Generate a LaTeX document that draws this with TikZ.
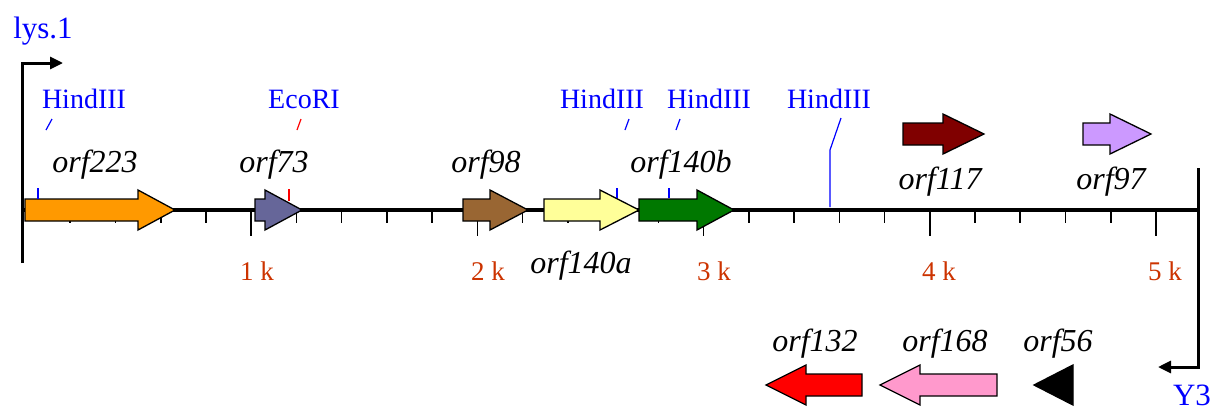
\documentclass[tikz,border=0pt]{standalone}
\usepackage{fontspec}
\setmainfont{Liberation Serif}
\usetikzlibrary{arrows.meta}
\definecolor{siteblue}{RGB}{0,0,255}
\definecolor{scalered}{RGB}{204,51,0}
\definecolor{gorange}{RGB}{255,153,0}
\definecolor{gslate}{RGB}{102,102,153}
\definecolor{gbrown}{RGB}{153,102,51}
\definecolor{gyellow}{RGB}{255,255,153}
\definecolor{ggreen}{RGB}{0,120,0}
\definecolor{gmaroon}{RGB}{128,0,0}
\definecolor{glav}{RGB}{204,153,255}
\definecolor{gred}{RGB}{255,0,0}
\definecolor{gpink}{RGB}{255,153,204}
\tikzset{
  genebody/.style={draw=black, line width=1.3pt, line join=miter},
  genelabel/.style={font=\fontsize{32}{36}\selectfont\itshape, anchor=base, inner sep=0pt},
  sitelabel/.style={font=\fontsize{28}{32}\selectfont, text=siteblue, anchor=base, inner sep=0pt},
  scalelabel/.style={font=\fontsize{27}{30}\selectfont, text=scalered, anchor=base, inner sep=0pt},
  endlabel/.style={font=\fontsize{31}{36}\selectfont, text=siteblue, anchor=base, inner sep=0pt},
  axisline/.style={line width=4pt},
  minortick/.style={line width=1.6pt},
  bracket/.style={line width=3pt, -{Triangle[length=13pt,width=12pt]}},
  siteline/.style={line width=1.2pt},
}
% #1 start x, #2 head start x, #3 tip x, #4 centre y, #5 colour
\newcommand\genearrow[5]{%
  \filldraw[genebody, fill=#5] (#1,#4-11) -- (#2,#4-11) -- (#2,#4-20) -- (#3,#4)
    -- (#2,#4+20) -- (#2,#4+11) -- (#1,#4+11) -- cycle;}
\begin{document}
\begin{tikzpicture}[x=1pt,y=-1pt]
\useasboundingbox (0,0) rectangle (1213,410);

% axis and ticks
\draw[axisline] (22,210) -- (1199,210);
\foreach \k in {1,...,25}{
  \pgfmathsetmacro\tx{25+45.24*\k}
  \pgfmathtruncatemacro\ismajor{mod(\k,5)==0 ? 1 : 0}
  \ifnum\ismajor=1
    \draw[minortick] (\tx,210) -- (\tx,236);
  \else
    \draw[minortick] (\tx,210) -- (\tx,223);
  \fi
}

% scale labels
\node[scalelabel] (k1) at (257,280) {1 k};
\node[scalelabel] (k2) at (488,280) {2 k};
\node[scalelabel] (k3) at (714,280) {3 k};
\node[scalelabel] (k4) at (939,280) {4 k};
\node[scalelabel] (k5) at (1165,280) {5 k};

% brackets
\coordinate (lt) at (22,263);
\coordinate (lc) at (22,63);
\coordinate (lh) at (63,63);
\draw[bracket] (lt) -- (lc) -- (lh);
\coordinate (rt) at (1198,168);
\coordinate (rc) at (1198,367);
\coordinate (rh) at (1158,367);
\draw[bracket] (rt) -- (rc) -- (rh);
\node[endlabel] (lys) at (43,38) {lys.1};
\node[endlabel] (y3) at (1192,405) {Y3};

% genes on the axis
\genearrow{25}{138}{175}{210}{gorange}
\genearrow{255}{265}{302}{210}{gslate}
\genearrow{463}{490}{528}{210}{gbrown}
\genearrow{544}{600}{639}{210}{gyellow}
\genearrow{639}{697}{734}{210}{ggreen}
% genes above
\genearrow{903}{943}{984}{134}{gmaroon}
\genearrow{1083}{1110}{1151}{134}{glav}
% genes below (reverse)
\genearrow{862}{806}{766}{385}{gred}
\genearrow{997}{920}{880}{385}{gpink}
\filldraw[genebody, fill=black] (1073,365) -- (1073,405) -- (1034,385) -- cycle;

% restriction sites
\node[sitelabel] (h1) at (84,108) {HindIII};
\draw[siteline, siteblue] (52,119) -- (46,130);
\draw[siteline, siteblue] (38,188) -- (38,199);
\node[sitelabel] (e1) at (304,108) {EcoRI};
\draw[siteline, red] (301,119) -- (297,130);
\draw[siteline, red] (289,189) -- (289,201);
\node[sitelabel] (h2) at (602,108) {HindIII};
\draw[siteline, siteblue] (629,119) -- (625,130);
\draw[siteline, siteblue] (617,188) -- (617,198);
\node[sitelabel] (h3) at (709,108) {HindIII};
\draw[siteline, siteblue] (680,119) -- (676,130);
\draw[siteline, siteblue] (669,188) -- (669,198);
\node[sitelabel] (h4) at (829,108) {HindIII};
\coordinate (h4a) at (841,118);
\coordinate (h4b) at (830,150);
\coordinate (h4c) at (830,207);
\draw[siteline, siteblue] (h4a) -- (h4b) -- (h4c);

% gene labels
\node[genelabel] (l223) at (95,172) {orf223};
\node[genelabel] (l73) at (274,172) {orf73};
\node[genelabel] (l98) at (486,172) {orf98};
\node[genelabel] (l140b) at (681,172) {orf140b};
\node[genelabel] (l140a) at (581,273) {orf140a};
\node[genelabel] (l117) at (940,189) {orf117};
\node[genelabel] (l97) at (1111,189) {orf97};
\node[genelabel] (l132) at (815,351) {orf132};
\node[genelabel] (l168) at (945,351) {orf168};
\node[genelabel] (l56) at (1058,351) {orf56};
\end{tikzpicture}
\end{document}
